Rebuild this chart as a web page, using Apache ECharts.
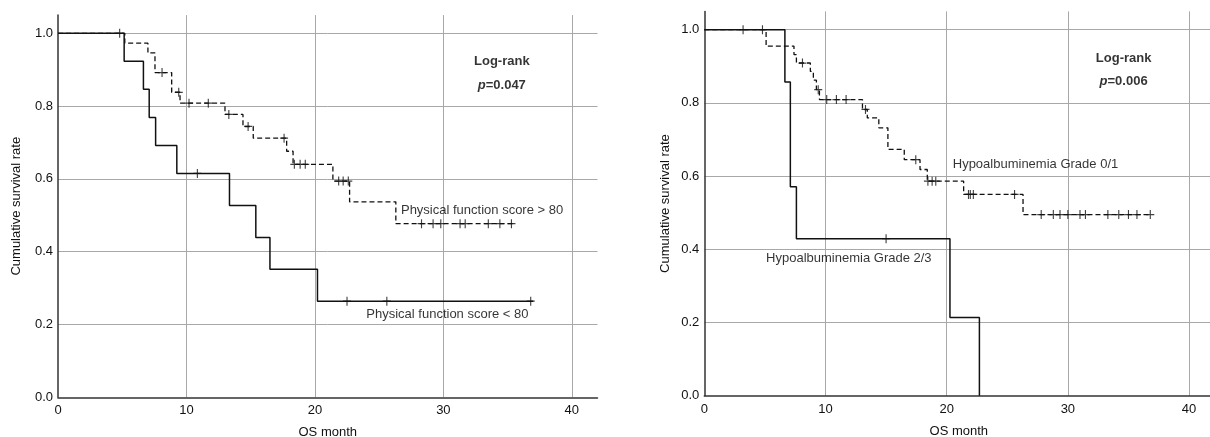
<!DOCTYPE html>
<html>
<head>
<meta charset="utf-8">
<script src="https://cdn.jsdelivr.net/npm/echarts@6/dist/echarts.min.js"></script>
<style>html,body{margin:0;padding:0;background:#fff}#c{width:1210px;height:437px}</style>
</head>
<body>
<div id="c"></div>
<script>
// ---- Left panel: Physical function score ----
const pfHighTimes  = [0, 5.2, 7.0, 7.55, 8.85, 9.5, 13.0, 14.4, 15.2, 17.8, 18.3, 21.4, 22.7, 26.3, 35.5];
const pfHighSurv   = [1, 0.973, 0.946, 0.892, 0.838, 0.808, 0.777, 0.744, 0.712, 0.676, 0.640, 0.594, 0.537, 0.477, 0.477];
const pfHighCensor = [4.8, 8.1, 9.4, 10.2, 11.7, 13.3, 14.8, 17.6, 18.4, 18.85, 19.25, 21.85, 22.2, 22.6, 28.3, 29.2, 29.8, 31.3, 31.7, 33.5, 34.4, 35.3];
const pfLowTimes   = [0, 5.15, 6.65, 7.1, 7.6, 9.25, 13.35, 15.4, 16.5, 20.2, 37.0];
const pfLowSurv    = [1, 0.923, 0.846, 0.769, 0.692, 0.615, 0.527, 0.439, 0.352, 0.264, 0.264];
const pfLowCensor  = [10.85, 22.5, 25.6, 36.8];

// ---- Right panel: Hypoalbuminemia grade ----
const haLowTimes   = [0, 5.1, 7.4, 7.6, 8.75, 9.0, 9.25, 9.5, 13.05, 13.45, 14.4, 15.15, 16.5, 17.8, 18.4, 21.4, 26.3, 36.8];
const haLowSurv    = [1, 0.955, 0.932, 0.909, 0.886, 0.862, 0.836, 0.809, 0.782, 0.759, 0.732, 0.673, 0.645, 0.618, 0.586, 0.550, 0.495, 0.495];
const haLowCensor  = [3.2, 4.8, 8.1, 9.4, 10.1, 10.9, 11.7, 13.3, 17.45, 18.45, 18.8, 19.1, 21.8, 21.95, 22.2, 25.6, 27.8, 28.8, 29.35, 30.0, 31.0, 31.45, 33.3, 34.2, 35.0, 35.7, 36.8];
const haHighTimes  = [0, 6.65, 7.1, 7.6, 20.27, 22.7];
const haHighSurv   = [1, 0.857, 0.571, 0.429, 0.214, 0];
const haHighCensor = [15.0];

// ---- Axis ticks & texts ----
const xTicks = [0, 10, 20, 30, 40];
const yTicks = [0.0, 0.2, 0.4, 0.6, 0.8, 1.0];
const leftLabels  = {high: 'Physical function score > 80', low: 'Physical function score < 80', p: '0.047'};
const rightLabels = {low: 'Hypoalbuminemia Grade 0/1', high: 'Hypoalbuminemia Grade 2/3', p: '0.006'};

// ---- Annotation anchors (data coordinates) ----
const leftAnno  = {high: [26.7, 0.514], low: [24.0, 0.228], lr: [34.55, 0.922], p: [34.55, 0.858]};
const rightAnno = {low: [20.5, 0.632], high: [5.1, 0.375], lr: [34.6, 0.922], p: [34.6, 0.858]};

const FONT = '"Liberation Sans", Arial, sans-serif';
const INK = '#111';
const PLUS = 'path://M4.3,0 h1.4 v4.3 h4.3 v1.4 h-4.3 v4.3 h-1.4 v-4.3 h-4.3 v-1.4 h4.3 z';

function pairs(ts, vs) { return ts.map((t, i) => [t, vs[i]]); }
function survAt(ts, vs, t) { let s = vs[0]; for (let i = 0; i < ts.length; i++) { if (ts[i] <= t) s = vs[i]; } return s; }
function censorPts(ts, vs, cs) { return cs.map(c => [c, survAt(ts, vs, c)]); }

function stepLine(idx, ts, vs, dashed) {
  return {type: 'line', xAxisIndex: idx, yAxisIndex: idx, step: 'end', symbol: 'none', silent: true,
    data: pairs(ts, vs), z: 3,
    lineStyle: {color: INK, width: dashed ? 1.3 : 1.5, type: dashed ? [5, 3] : 'solid'}};
}
function censors(idx, ts, vs, cs) {
  return {type: 'scatter', xAxisIndex: idx, yAxisIndex: idx, symbol: PLUS, symbolSize: [8, 9], silent: true,
    data: censorPts(ts, vs, cs), z: 4, itemStyle: {color: INK}};
}
function textAt(idx, pos, txt, position, rich) {
  const lab = {show: true, position: position, distance: 0, color: '#000', fontFamily: FONT, fontSize: 13,
    formatter: txt};
  if (rich) lab.rich = rich;
  return {type: 'scatter', xAxisIndex: idx, yAxisIndex: idx, symbolSize: 0, silent: true, z: 5,
    data: [pos], label: lab};
}
const lrRich = {
  b: {fontFamily: FONT, fontSize: 13, fontWeight: 'bold', color: '#000'},
  i: {fontFamily: FONT, fontSize: 13, fontWeight: 'bold', fontStyle: 'italic', color: '#000'}
};

function xAxis(idx) {
  return {type: 'value', gridIndex: idx, min: 0, max: 42, interval: 10,
    name: 'OS month', nameLocation: 'middle', nameGap: 29,
    nameTextStyle: {fontFamily: FONT, fontSize: 13, color: '#111'},
    axisLine: {show: true, lineStyle: {color: '#333', width: 1.5}},
    axisTick: {show: false},
    axisLabel: {margin: 7, fontFamily: FONT, fontSize: 13, color: '#111', showMaxLabel: false,
      formatter: v => xTicks.includes(v) ? String(v) : ''},
    splitLine: {show: true, showMinLine: false, showMaxLine: false, lineStyle: {color: '#a8a8a8', width: 1}}};
}
function yAxis(idx, gap) {
  return {type: 'value', gridIndex: idx, min: 0, max: 1.05, interval: 0.2,
    name: 'Cumulative survival rate', nameLocation: 'middle', nameGap: gap,
    nameTextStyle: {fontFamily: FONT, fontSize: 13, color: '#111'},
    axisLine: {show: true, lineStyle: {color: '#333', width: 1.5}},
    axisTick: {show: false},
    axisLabel: {margin: 5, fontFamily: FONT, fontSize: 13, color: '#111', showMaxLabel: false,
      formatter: v => { const m = yTicks.find(t => Math.abs(t - v) < 1e-6); return m === undefined ? '' : m.toFixed(1); }},
    splitLine: {show: true, showMinLine: false, showMaxLine: false, lineStyle: {color: '#a8a8a8', width: 1}}};
}

const chart = echarts.init(document.getElementById('c'), null, {renderer: 'canvas'});
chart.setOption({
  animation: false,
  backgroundColor: '#fff',
  grid: [
    {left: 58, top: 15.1, width: 539.5, height: 382.2, containLabel: false, outerBoundsMode: 'none'},
    {left: 704.3, top: 11.4, width: 509, height: 384.3, containLabel: false, outerBoundsMode: 'none'}
  ],
  xAxis: [xAxis(0), xAxis(1)],
  yAxis: [yAxis(0, 35), yAxis(1, 32)],
  series: [
    stepLine(0, pfHighTimes, pfHighSurv, true),
    stepLine(0, pfLowTimes, pfLowSurv, false),
    censors(0, pfHighTimes, pfHighSurv, pfHighCensor),
    censors(0, pfLowTimes, pfLowSurv, pfLowCensor),
    textAt(0, leftAnno.high, leftLabels.high, 'right'),
    textAt(0, leftAnno.low, leftLabels.low, 'right'),
    textAt(0, leftAnno.lr, '{b|Log-rank}', 'inside', lrRich),
    textAt(0, leftAnno.p, '{i|p}{b|=' + leftLabels.p + '}', 'inside', lrRich),

    stepLine(1, haLowTimes, haLowSurv, true),
    stepLine(1, haHighTimes, haHighSurv, false),
    censors(1, haLowTimes, haLowSurv, haLowCensor),
    censors(1, haHighTimes, haHighSurv, haHighCensor),
    textAt(1, rightAnno.low, rightLabels.low, 'right'),
    textAt(1, rightAnno.high, rightLabels.high, 'right'),
    textAt(1, rightAnno.lr, '{b|Log-rank}', 'inside', lrRich),
    textAt(1, rightAnno.p, '{i|p}{b|=' + rightLabels.p + '}', 'inside', lrRich)
  ]
});
</script>
</body>
</html>
